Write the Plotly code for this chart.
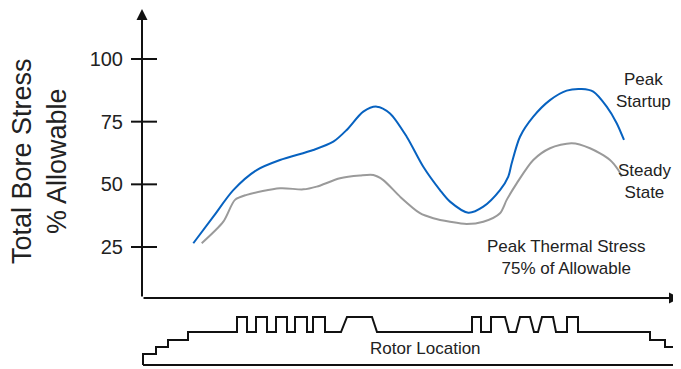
import plotly.graph_objects as go

# ---------------- data ----------------
# rotor location (arbitrary units along the rotor) and % of allowable bore stress
startup_x = [51.3, 71.3, 91.3, 114.7, 138, 171.3, 191.3, 204.7, 221.3, 234.7, 248, 264.7,
             281.3, 298, 308, 326.3, 341.3, 358, 366.3, 369.7, 378, 391.3, 408, 424.7,
             439.7, 451.3, 464.7, 474.7, 482]
startup_y = [26.5, 37.1, 47.7, 55.7, 59.7, 63.7, 67.0, 71.7, 79.0, 81.0, 78.3, 69.0,
             57.0, 47.7, 43.1, 38.7, 41.1, 47.7, 53.1, 58.4, 69.0, 77.0, 83.6, 87.4,
             88.0, 87.0, 81.0, 74.4, 67.7]

steady_x = [59.7, 81.3, 93, 104.7, 138, 161.3, 174.7, 198, 218, 231.3, 241.3, 258, 278,
            291.3, 308, 324.7, 341.3, 358, 364.7, 374.7, 391.3, 408, 429.7, 448, 468,
            476.3, 479.7]
steady_y = [26.5, 35.1, 43.8, 45.8, 48.4, 48.0, 49.1, 52.4, 53.5, 53.7, 51.7, 45.1, 38.5,
            36.5, 35.1, 34.2, 35.1, 38.5, 43.8, 50.4, 59.7, 64.4, 66.4, 64.4, 59.7,
            55.7, 53.1]

# rotor outline (location, relative radius)
rotor_x = [1, 1, 14, 14, 26, 26, 46, 46, 95, 95, 105, 105, 114, 114, 125, 125, 134, 134, 145, 145,
           153, 153, 165, 165, 171, 171, 183, 183, 199, 205, 230, 235,
           330, 330, 339, 339, 349, 349, 363, 367, 374, 378, 388, 392, 396, 400, 411, 414,
           425, 425, 436, 436, 508, 508, 523, 523, 535, 535, 540, 540, 1]
rotor_r = [0, 11, 11, 18, 18, 25, 25, 33, 33, 48, 48, 33, 33, 48, 48, 33, 33, 48, 48, 33,
           33, 48, 48, 33, 33, 48, 48, 33, 33, 48, 48, 33,
           33, 48, 48, 33, 33, 48, 48, 33, 33, 48, 48, 33, 33, 48, 48, 33,
           33, 48, 48, 33, 33, 25, 25, 18, 18, 11, 11, 0, 0]

tick_vals = [25, 50, 75, 100]
tick_text = ["25", "50", "75", "100"]

FONT = "Liberation Sans"
TXT = "#222222"
OFF = 8                      # page body margin of the html page
W, H = 681 - OFF, 369 - OFF
L = 142 - OFF
PW = W - L


def px_x(p):
    return (p - OFF - L) / PW


def px_y(p):
    return (H - (p - OFF)) / H


fig = go.Figure()
fig.add_trace(go.Scatter(x=startup_x, y=startup_y, mode="lines",
                         line=dict(color="#0762C0", width=2, shape="spline", smoothing=0.8),
                         hoverinfo="skip"))
fig.add_trace(go.Scatter(x=steady_x, y=steady_y, mode="lines",
                         line=dict(color="#9A9A9A", width=2, shape="spline", smoothing=0.8),
                         hoverinfo="skip"))
fig.add_trace(go.Scatter(x=rotor_x, y=rotor_r, mode="lines", xaxis="x", yaxis="y2",
                         line=dict(color="#111111", width=2), hoverinfo="skip"))

shapes = []
for v in tick_vals:
    shapes.append(dict(type="line", xref="paper", yref="y", x0=px_x(131), x1=px_x(157),
                       y0=v, y1=v, line=dict(color="#111111", width=2)))


def label(text, x, y, size=17, **kw):
    return dict(x=px_x(x), y=px_y(y), xref="paper", yref="paper", text=text,
                showarrow=False, xanchor="center", yanchor="middle",
                font=dict(family=FONT, size=size, color=TXT), **kw)


annotations = [
    # axes with arrows
    dict(x=px_x(142), y=px_y(6), xref="paper", yref="paper", ax=0, ay=292, text="",
         showarrow=True, arrowhead=2, arrowsize=1.1, arrowwidth=2, arrowcolor="#111111"),
    dict(x=px_x(680), y=px_y(298), xref="paper", yref="paper", ax=-538, ay=0, text="",
         showarrow=True, arrowhead=2, arrowsize=1.1, arrowwidth=2, arrowcolor="#111111"),
    label("Total Bore Stress<br>% Allowable", 40, 161, size=27, textangle=-90),
    label("Peak<br>Startup", 643, 90),
    label("Steady<br>State", 644, 181),
    label("Peak Thermal Stress<br>75% of Allowable", 566, 257),
    label("Rotor Location", 425.5, 348.5),
]

fig.update_layout(
    width=W, height=H, margin=dict(l=L, r=0, t=0, b=0),
    paper_bgcolor="white", plot_bgcolor="white", showlegend=False,
    xaxis=dict(range=[0, PW], visible=False, fixedrange=True),
    yaxis=dict(domain=[px_y(298), 1], range=[4.66, 100 + (59 - OFF) / 2.507],
               tickvals=tick_vals, ticktext=tick_text,
               ticks="", showgrid=False, zeroline=False, showline=False,
               tickfont=dict(family=FONT, size=20, color=TXT), ticklabelstandoff=18),
    yaxis2=dict(domain=[0, px_y(305)], range=[-4, 60], anchor="x", visible=False),
    shapes=shapes, annotations=annotations,
)

fig.write_html("out.html")
